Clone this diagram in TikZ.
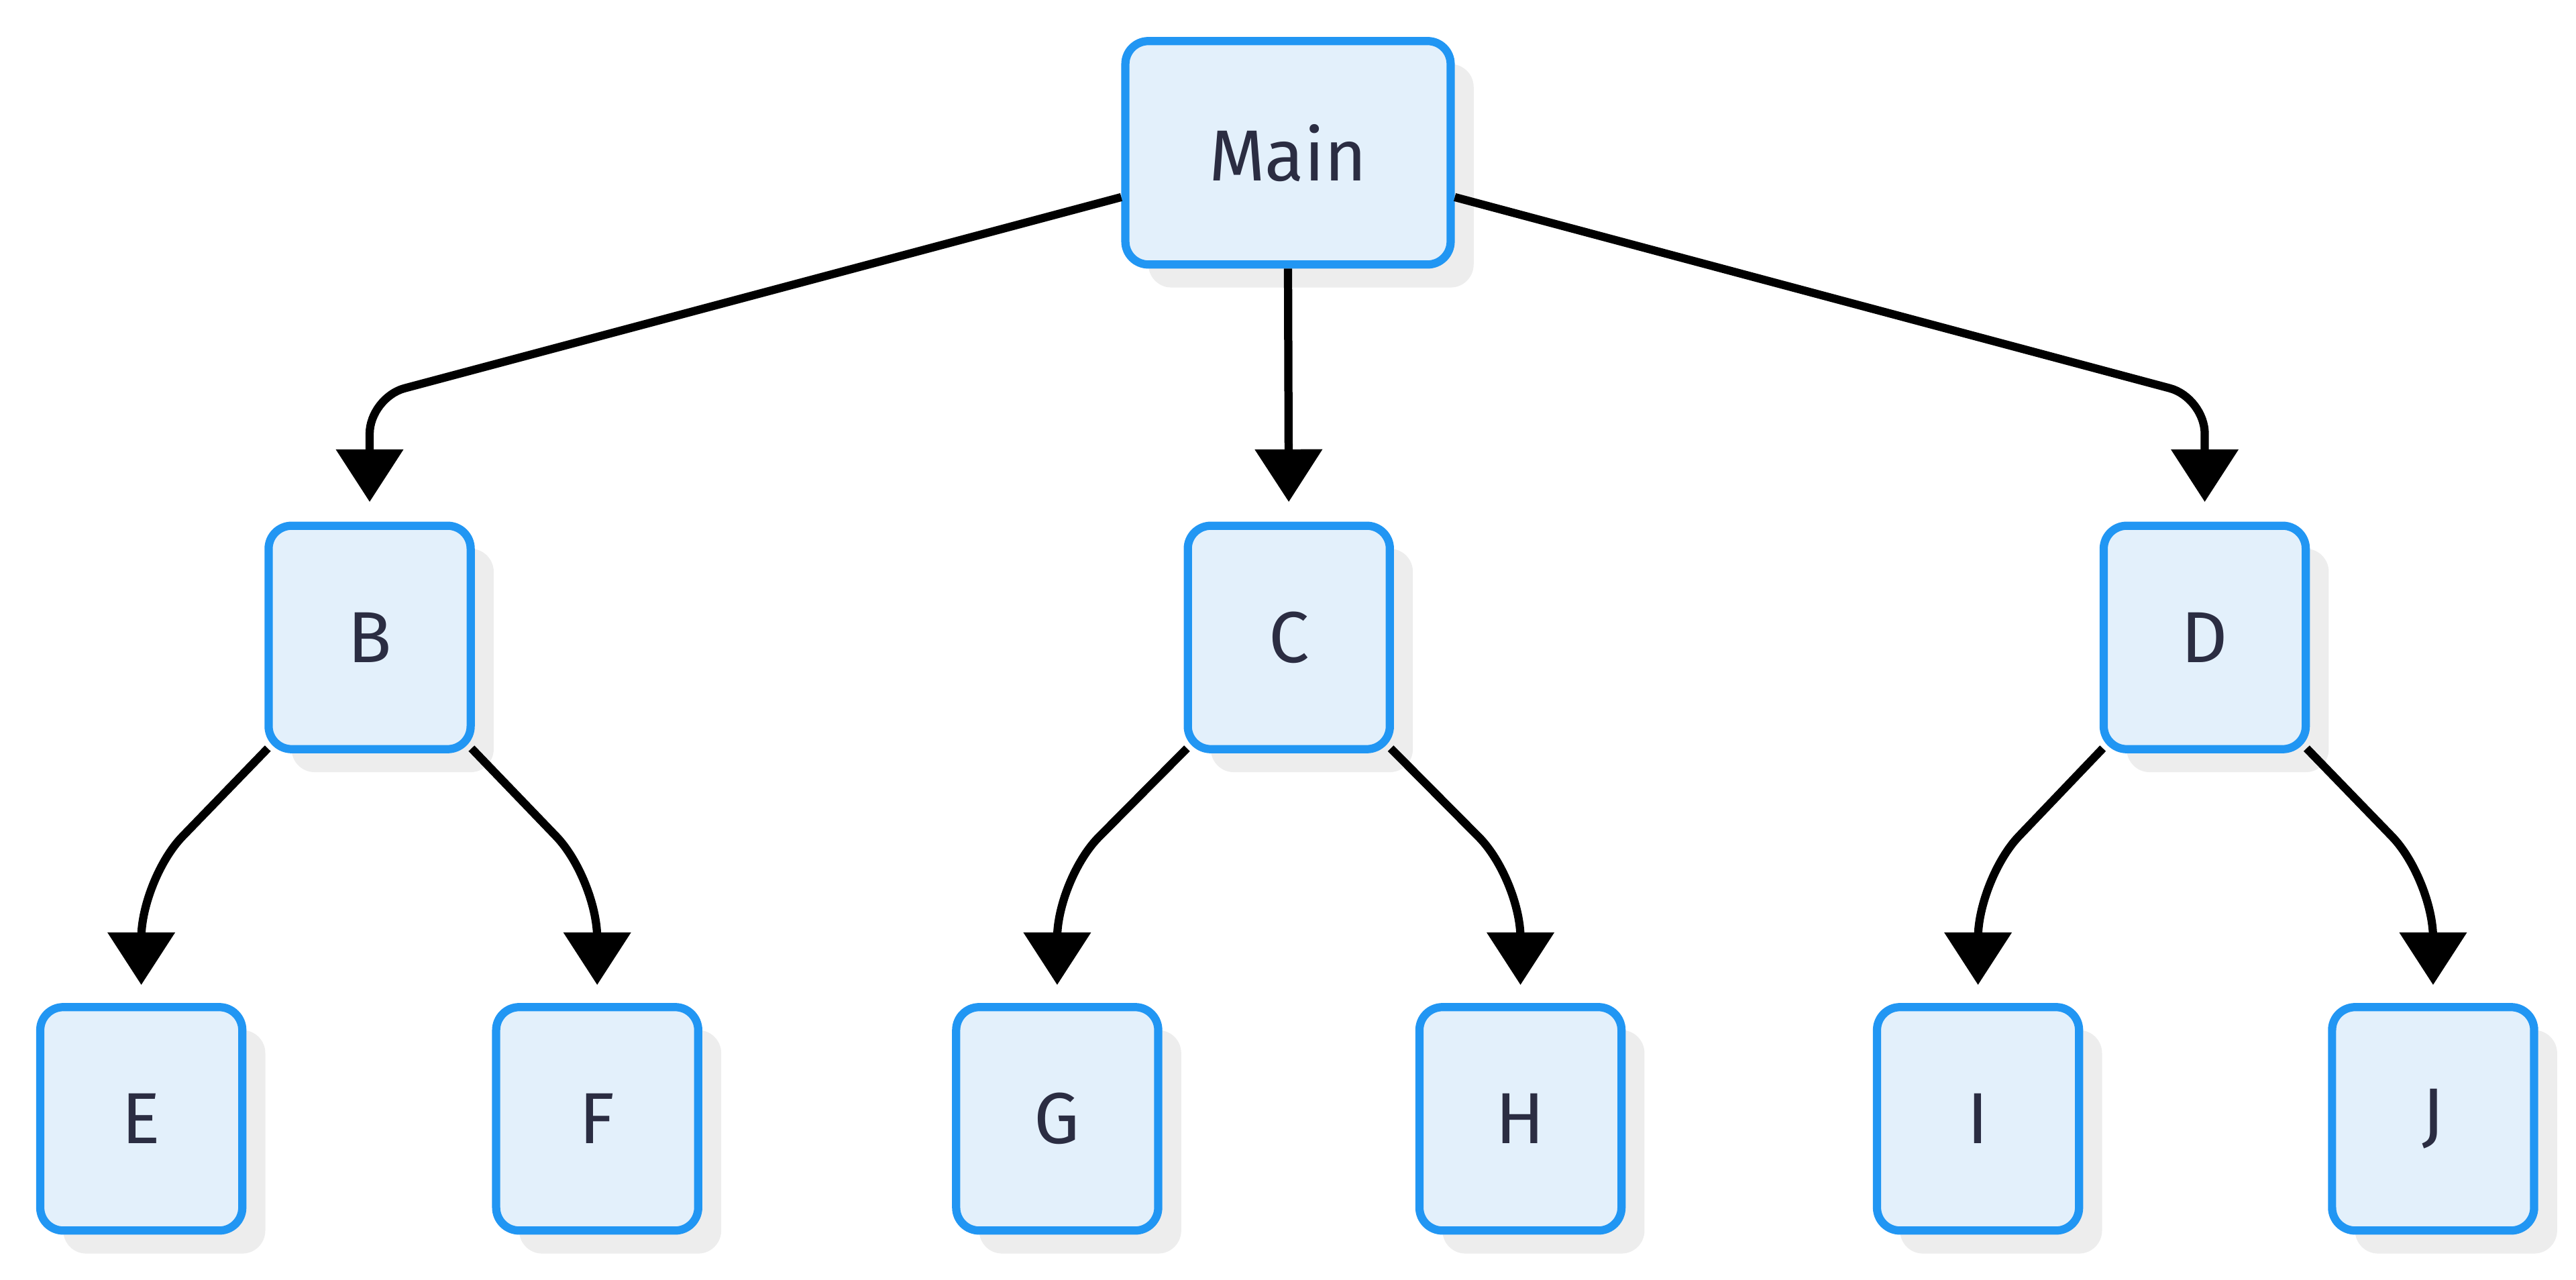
\documentclass[tikz,border=0pt]{standalone}
\usepackage{fontspec}
\setmainfont{Fira Sans}
\usetikzlibrary{arrows.meta,shadows}
\definecolor{bfill}{HTML}{E3F0FB}
\definecolor{bline}{HTML}{2196F3}
\definecolor{txt}{HTML}{2B2D42}
\begin{document}
\begin{tikzpicture}[x=1pt,y=-1pt,
 box/.style={draw=bline,fill=bfill,line width=5pt,rounded corners=14pt,minimum width=123pt,minimum height=136pt,text=txt,font=\fontsize{44}{46}\selectfont,
   general shadow={fill=black!7,shadow xshift=14pt,shadow yshift=-14pt}},
 edge/.style={draw=black,line width=5pt,-{Triangle[width=40pt,length=32pt]}}]
\useasboundingbox (0,0) rectangle (1568,779);
\node[box,minimum width=198pt] (Main) at (784,93) {Main};
\node[box] (B) at (225,388) {B};
\node[box] (C) at (784.5,388) {C};
\node[box] (D) at (1342,388) {D};
\node[box] (E) at (86,681) {E};
\node[box] (F) at (363.5,681) {F};
\node[box] (G) at (643.5,681) {G};
\node[box] (H) at (925.5,681) {H};
\node[box] (I) at (1204,681) {I};
\node[box] (J) at (1481,681) {J};
\draw[edge,rounded corners=22pt,shorten >=12pt] ([yshift=-27pt]Main.west) -- (B.north |- 0,242) -- (B.north);
\draw[edge,rounded corners=22pt,shorten >=12pt] ([yshift=-27pt]Main.east) -- (D.north |- 0,242) -- (D.north);
\draw[edge,shorten >=12pt] (Main.south) -- (C.north);
\foreach \p/\l/\r in {B/E/F,C/G/H,D/I/J}{
 \draw[edge,rounded corners=36pt,shorten >=11pt] ([xshift=2pt,yshift=3pt]\p.south west) -- (\l.north |- 0,535) -- (\l.north);
 \draw[edge,rounded corners=36pt,shorten >=11pt] ([xshift=-2pt,yshift=3pt]\p.south east) -- (\r.north |- 0,535) -- (\r.north);
}
\end{tikzpicture}
\end{document}
